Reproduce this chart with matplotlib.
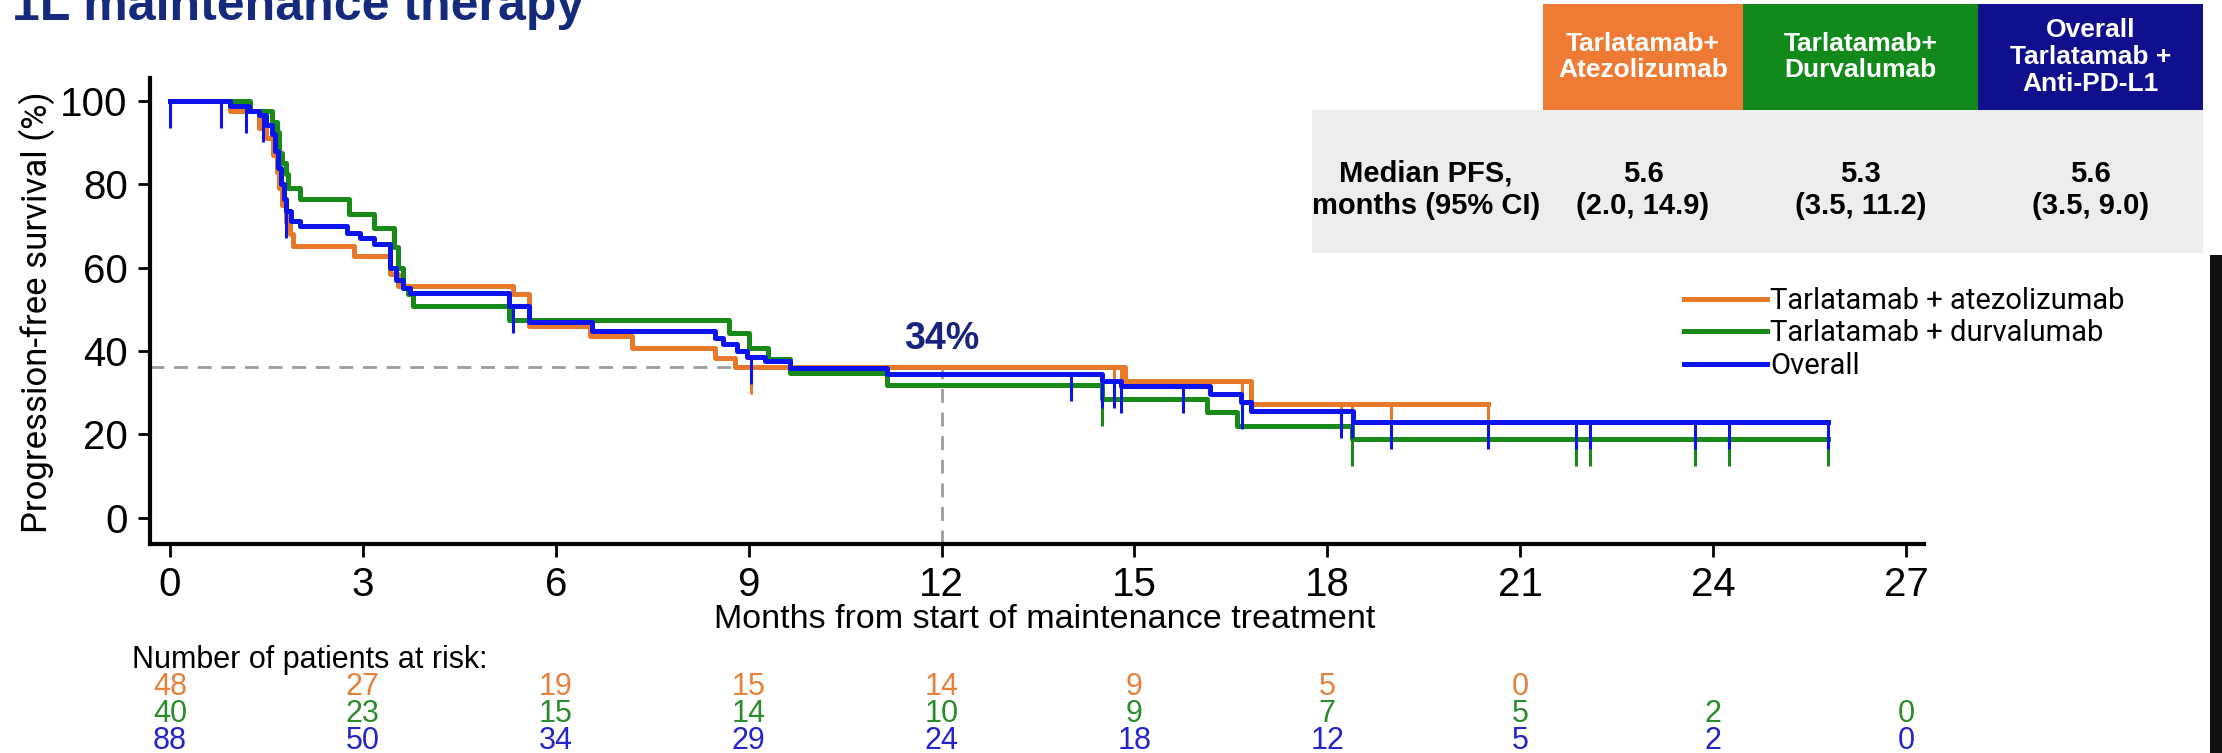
import numpy as np
import matplotlib
matplotlib.use("Agg")
import matplotlib.pyplot as plt
from matplotlib.patches import Rectangle
from matplotlib.transforms import blended_transform_factory

W, H = 2222, 753

# Kaplan-Meier steps: time (months) and PFS (%) from that time on
ate_t = [0, 0.93, 1.38, 1.50, 1.60, 1.66, 1.70, 1.75, 1.80, 1.86, 1.91, 2.86, 3.43, 3.55,
         5.33, 5.58, 6.54, 7.19, 8.47, 8.79, 14.86, 16.81, 20.50]
ate_s = [100, 97.6, 93.6, 91.2, 87.0, 83.0, 79.2, 75.0, 71.0, 68.0, 65.2, 62.8, 58.5, 55.6,
         53.6, 46.0, 43.6, 40.8, 38.4, 36.2, 32.9, 27.4, 27.4]
ate_cens = [9.04, 14.68, 14.79, 15.75, 16.68, 18.21, 18.39, 18.99, 20.50]

dur_t = [0, 1.25, 1.58, 1.66, 1.70, 1.75, 1.80, 1.83, 2.03, 2.78, 3.17, 3.48, 3.55, 3.63,
         3.70, 3.78, 5.28, 8.69, 9.00, 9.30, 9.64, 11.15, 14.50, 16.13, 16.60, 18.38, 25.79]
dur_s = [100, 97.5, 95.0, 92.5, 87.5, 85.0, 82.5, 79.2, 76.4, 72.8, 69.6, 65.0, 60.0, 55.0,
         53.7, 50.8, 47.4, 44.4, 40.8, 38.0, 34.8, 31.9, 28.5, 25.3, 22.1, 18.9, 18.9]
dur_cens = [14.50, 18.39, 21.87, 22.08, 23.72, 24.24, 25.79]

all_t = [0, 0.94, 1.23, 1.38, 1.50, 1.58, 1.63, 1.68, 1.72, 1.77, 1.81, 1.88, 2.03, 2.76,
         2.96, 3.17, 3.43, 3.52, 3.62, 3.73, 5.28, 5.58, 6.56, 8.47, 8.60, 8.82, 8.98, 9.25,
         9.64, 11.15, 14.50, 14.79, 16.17, 16.65, 16.81, 18.40, 25.79]
all_s = [100, 98.9, 97.7, 96.6, 94.3, 92.0, 88.0, 84.0, 80.0, 76.5, 73.6, 71.2, 70.0, 68.4,
         67.2, 65.6, 60.0, 57.0, 55.0, 53.8, 50.8, 47.0, 44.8, 43.1, 41.6, 40.0, 38.6, 37.6,
         36.0, 34.4, 32.9, 31.7, 29.7, 27.7, 25.7, 22.9, 22.9]
all_cens = [0.0, 0.79, 1.19, 1.44, 1.81, 5.33, 9.04, 14.02, 14.50, 14.68, 14.79, 15.75, 16.68,
            18.21, 18.39, 18.99, 20.50, 21.87, 22.08, 23.72, 24.24, 25.79]

# number at risk
risk_months = [0, 3, 6, 9, 12, 15, 18, 21, 24, 27]
ate_risk = [48, 27, 19, 15, 14, 9, 5, 0]
dur_risk = [40, 23, 15, 14, 10, 9, 7, 5, 2, 0]
all_risk = [88, 50, 34, 29, 24, 18, 12, 5, 2, 0]

# median PFS table
groups_head = ["Tarlatamab+\nAtezolizumab", "Tarlatamab+\nDurvalumab",
               "Overall\nTarlatamab +\nAnti-PD-L1"]
median_pfs = ["5.6\n(2.0, 14.9)", "5.3\n(3.5, 11.2)", "5.6\n(3.5, 9.0)"]

landmark_month = 12
landmark_pct = 34
landmark_line = 36.2

ORANGE = "#E8792B"
GREEN = "#188A18"
BLUE = "#0B14EC"
NAVY = "#17237E"
NARROW = ["Liberation Sans Narrow", "Liberation Sans", "DejaVu Sans"]
REG = ["Roboto", "Liberation Sans", "DejaVu Sans"]


def fx(x):
    return x / W


def fy(y):
    return 1 - y / H


fig = plt.figure(figsize=(W / 100, H / 100), dpi=100)
ax = fig.add_axes([fx(150), fy(544), fx(1924) - fx(150), fy(78) - fy(544)])

ax.set_xlim(-0.31, 27.28)
ax.set_ylim(-6.3, 105.5)

# landmark guides
ax.plot([-0.31, landmark_month], [landmark_line, landmark_line], color="#9C9C9C",
        lw=2, dashes=(5, 3.5), zorder=1)
ax.plot([landmark_month, landmark_month], [-6.3, landmark_line], color="#9C9C9C",
        lw=2, dashes=(5, 3.5), zorder=1)


def km(t, s, cens, color, label):
    t = np.asarray(t)
    s = np.asarray(s)
    ln, = ax.step(t, s, where="post", color=color, lw=3.6, label=label, zorder=3)
    idx = np.searchsorted(t, cens, side="right") - 1
    idx = np.clip(idx, 0, len(s) - 1)
    ax.vlines(cens, s[idx] - 6.5, s[idx], color=color, lw=2.2, zorder=3)
    return ln


h1 = km(ate_t, ate_s, ate_cens, ORANGE, "Tarlatamab + atezolizumab")
h2 = km(dur_t, dur_s, dur_cens, GREEN, "Tarlatamab + durvalumab")
h3 = km(all_t, all_s, all_cens, BLUE, "Overall")

ax.text(landmark_month, 43, f"{landmark_pct}%", ha="center", va="center", fontsize=27,
        fontweight="bold", color=NAVY, family=NARROW)

for side in ["top", "right"]:
    ax.spines[side].set_visible(False)
for side in ["left", "bottom"]:
    ax.spines[side].set_linewidth(3)
ax.set_xticks(risk_months)
ax.set_yticks([0, 20, 40, 60, 80, 100])
ax.tick_params(length=9, width=2, pad=7, labelsize=29)
for lab in ax.get_xticklabels() + ax.get_yticklabels():
    lab.set_family(NARROW)

ax.set_xlabel("Months from start of maintenance treatment", fontsize=24.5, family=NARROW)
ax.xaxis.set_label_coords(fx(1045), fy(604), transform=fig.transFigure)
ax.set_ylabel("Progression-free survival (%)", fontsize=25, family=REG)
ax.yaxis.set_label_coords(fx(55), fy(312), transform=fig.transFigure)

ax.legend(handles=[h1, h2, h3], loc="upper left", bbox_to_anchor=(fx(1684), fy(287)),
          bbox_transform=fig.transFigure, frameon=False, prop={"family": REG, "size": 21},
          handlelength=2.85, handletextpad=0.1, labelspacing=0.15, borderpad=0,
          borderaxespad=0)

# number at risk
tr = blended_transform_factory(ax.transData, fig.transFigure)
fig.text(fx(132), fy(660), "Number of patients at risk:", fontsize=22, family=NARROW,
         va="center", ha="left")
for vals, color, ypx in [(ate_risk, "#E6803A", 687), (dur_risk, "#2A8C2A", 714),
                         (all_risk, "#2424C8", 741)]:
    for m, v in zip(risk_months, vals):
        ax.text(m, fy(ypx), str(v), transform=tr, ha="center", va="center", fontsize=22,
                family=NARROW, color=color, clip_on=False)

# median PFS table
fig.add_artist(Rectangle((fx(1312), fy(253)), fx(2203) - fx(1312), fy(110) - fy(253),
                         transform=fig.transFigure, color="#EDEDED", lw=0))
head_cols = [(1543, 1743, "#EE7A33"), (1743, 1978, "#118A1B"), (1978, 2203, "#10108E")]
for (x0, x1, col), head, med in zip(head_cols, groups_head, median_pfs):
    fig.add_artist(Rectangle((fx(x0), fy(110)), fx(x1) - fx(x0), fy(4) - fy(110),
                             transform=fig.transFigure, color=col, lw=0))
    fig.text(fx((x0 + x1) / 2), fy(57), head, ha="center", va="center", color="white",
             fontsize=19, fontweight="bold", family=NARROW, linespacing=1.15)
    fig.text(fx((x0 + x1) / 2), fy(190), med, ha="center", va="center", color="black",
             fontsize=21, fontweight="bold", family=NARROW, linespacing=1.2)
fig.text(fx(1426), fy(190), "Median PFS,\nmonths (95% CI)", ha="center", va="center",
         color="black", fontsize=21, fontweight="bold", family=NARROW, linespacing=1.2)

fig.text(fx(12), fy(20), "1L maintenance therapy", fontsize=36, fontweight="bold",
         color="#152a7c", family=["Liberation Sans", "DejaVu Sans"], va="baseline")

# dark border strip on the right edge
fig.add_artist(Rectangle((fx(2210), 0), 1 - fx(2210), fy(255), transform=fig.transFigure,
                         color="#111111", lw=0))

fig.savefig("out.png", dpi=100)
